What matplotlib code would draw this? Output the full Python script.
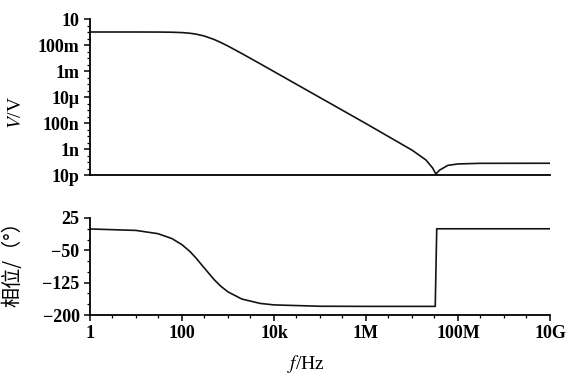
import numpy as np
import matplotlib.pyplot as plt
from matplotlib.ticker import FixedLocator, LogLocator, NullFormatter, MultipleLocator

plt.rcParams["font.family"] = ["Liberation Serif", "Noto Sans CJK SC"]
plt.rcParams["mathtext.fontset"] = "stix"

# amplitude response, frequency in Hz
mag_freq = [1, 10, 30, 60, 100, 150, 200, 300, 500, 700, 1e3, 2e3, 5e3, 1e4,
            1e5, 1e6, 1e7, 2e7, 2.8e7, 3.3e7, 4e7, 6e7, 1e8, 3e8, 1e10]
mag_volts = [1.0, 0.999, 0.99, 0.96, 0.90, 0.80, 0.69, 0.50, 0.265, 0.155, 0.083,
             0.022, 3.6e-3, 9.0e-4, 9.0e-6, 9.0e-8, 8.2e-10, 1.45e-10, 3.5e-11,
             1.2e-11, 2.4e-11, 5.5e-11, 7.1e-11, 7.9e-11, 8.0e-11]

# phase response in degrees
phase_freq = [1, 10, 30, 60, 100, 150, 200, 300, 500, 700, 1e3, 2e3, 5e3, 1e4,
              1e5, 1e6, 3.2e7, 3.45e7, 1e8, 1e10]
phase_deg = [-0.4, -3.8, -11.4, -22.6, -36.9, -53.1, -67.4, -90.0, -118.0, -133.4,
             -146.4, -163.0, -173.1, -176.6, -179.7, -180.0, -180.0, 0.0, 0.0, 0.0]

freq_ticks = [1, 1e2, 1e4, 1e6, 1e8, 1e10]
freq_labels = ["1", "100", "10k", "1M", "100M", "10G"]
volt_ticks = [1e1, 1e-1, 1e-3, 1e-5, 1e-7, 1e-9, 1e-11]
volt_labels = ["10", "100m", "1m", "10\u03bc", "100n", "1n", "10p"]
phase_ticks = [25, -50, -125, -200]

W, H = 568, 376
fig = plt.figure(figsize=(W / 100, H / 100), dpi=100)
ax1 = fig.add_axes([90 / W, 1 - 175 / H, 460 / W, 156 / H])
ax2 = fig.add_axes([90 / W, 1 - 315 / H, 460 / W, 97 / H])

line_kw = dict(color="#141414", lw=1.2)

ax1.plot(mag_freq, mag_volts, **line_kw)
ax1.set_xscale("log")
ax1.set_yscale("log")
ax1.set_xlim(1, 1e10)
ax1.set_ylim(1e-11, 1e1)
ax1.yaxis.set_major_locator(FixedLocator(volt_ticks))
ax1.set_yticklabels(volt_labels)
ax1.yaxis.set_minor_locator(LogLocator(base=10, subs=(1.0, 3.0), numticks=30))
ax1.yaxis.set_minor_formatter(NullFormatter())
ax1.tick_params(axis="x", which="both", bottom=False, labelbottom=False)
ax1.set_ylabel("$V$/V", fontsize=14)
ax1.yaxis.set_label_coords(-0.142, 0.40)

ax2.plot(phase_freq, phase_deg, **line_kw)
ax2.set_xscale("log")
ax2.set_xlim(1, 1e10)
ax2.set_ylim(-200, 25)
ax2.yaxis.set_major_locator(FixedLocator(phase_ticks))
ax2.yaxis.set_minor_locator(MultipleLocator(25))
ax2.xaxis.set_major_locator(FixedLocator(freq_ticks))
ax2.set_xticklabels(freq_labels)
ax2.xaxis.set_minor_locator(LogLocator(base=10, subs=(1.0, 3.0), numticks=30))
ax2.xaxis.set_minor_formatter(NullFormatter())
ax2.set_xlabel("$f$/Hz", fontsize=14)
ax2.xaxis.set_label_coords(0.47, -0.39)
ax2.set_ylabel("相位/（°）", fontsize=14.5,
               family=["Noto Sans CJK SC", "Liberation Serif"])
ax2.yaxis.set_label_coords(-0.145, 0.58)

for ax in (ax1, ax2):
    ax.spines["top"].set_visible(False)
    ax.spines["right"].set_visible(False)
    for side in ("left", "bottom"):
        ax.spines[side].set_linewidth(1.3)
    ax.tick_params(which="major", length=4, width=1.1, labelsize=13, direction="out")
    ax.tick_params(which="minor", length=2, width=0.9, direction="out")
    for lbl in ax.get_xticklabels() + ax.get_yticklabels():
        lbl.set_fontweight("bold")

fig.savefig("out.png", dpi=100)
